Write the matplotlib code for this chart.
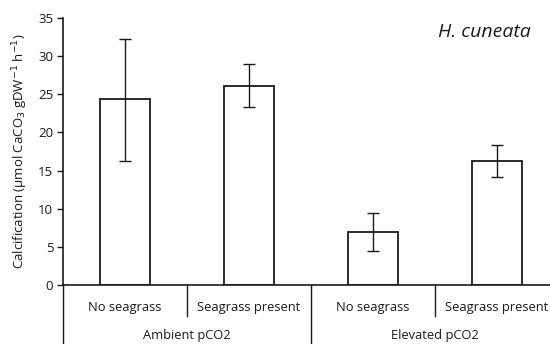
import matplotlib
matplotlib.use("Agg")
import matplotlib.pyplot as plt
import matplotlib.transforms as mtransforms

categories = ["No seagrass", "Seagrass present", "No seagrass", "Seagrass present"]
groups = ["Ambient pCO2", "Elevated pCO2"]
values = [24.4, 26.1, 6.9, 16.3]
err_low = [8.1, 2.8, 2.4, 2.1]
err_high = [7.9, 2.9, 2.5, 2.0]
yticks = [0, 5, 10, 15, 20, 25, 30, 35]

plt.rcParams['font.family'] = ['Open Sans', 'DejaVu Sans']

fig = plt.figure(figsize=(5.5, 3.44), dpi=100)
ax = fig.add_axes([63/550, 59/344, 496/550, 267/344])

x = list(range(len(values)))
ax.bar(x, values, width=0.4, color='white', edgecolor='#1a1a1a', linewidth=1.3,
       yerr=[err_low, err_high], error_kw=dict(ecolor='#1a1a1a', elinewidth=1.0, capsize=4, capthick=1.0))

ax.set_xlim(-0.5, 3.5)
ax.set_ylim(0, 35)
ax.set_yticks(yticks)
ax.tick_params(axis='y', labelsize=9.5, length=4, width=1, colors='#1a1a1a', pad=3)
ax.set_xticks([])
for s in ['top', 'right']:
    ax.spines[s].set_visible(False)
for s in ['left', 'bottom']:
    ax.spines[s].set_linewidth(1.2)
    ax.spines[s].set_color('#1a1a1a')

ax.set_ylabel("Calcification (µmol CaCO$_3$ gDW$^{-1}$ h$^{-1}$)", fontsize=9.5, labelpad=6, color='#1a1a1a')

trans = mtransforms.blended_transform_factory(ax.transData, ax.transAxes)
px = 1 / 267  # axes fraction per pixel vertically

# category labels
for i, c in enumerate(categories):
    ax.text(i, -22 * px, c, transform=trans, ha='center', va='center', fontsize=9.3, color='#1a1a1a')
# group labels
for g, gname in enumerate(groups):
    ax.text(2 * g + 0.5, -51 * px, gname, transform=trans, ha='center', va='center', fontsize=9.3, color='#1a1a1a')

# separators
for xs in [0.5, 2.5]:
    ax.plot([xs, xs], [0, -31 * px], transform=trans, color='#1a1a1a', lw=1.0, clip_on=False)
for xs in [-0.5, 1.5, 3.5]:
    ax.plot([xs, xs], [0, -60 * px], transform=trans, color='#1a1a1a', lw=1.0, clip_on=False)

ax.text(0.849, 0.948, "H. cuneata", transform=ax.transAxes, ha='center', va='center',
        fontsize=14, style='italic', color='#1a1a1a')

fig.savefig("out.png", dpi=100)
